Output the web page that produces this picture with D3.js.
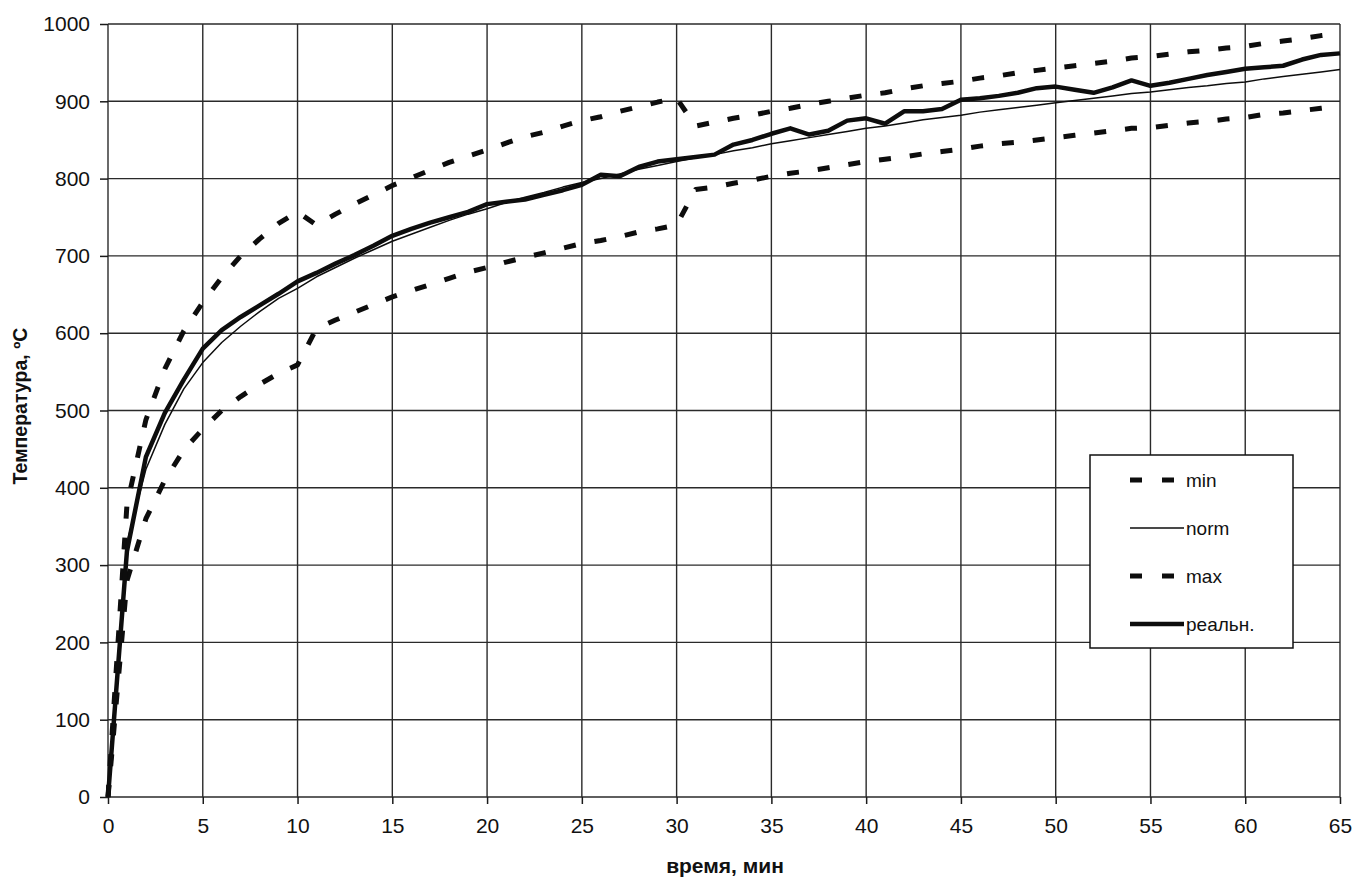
<!DOCTYPE html>
<html>
<head>
<meta charset="utf-8">
<script src="https://cdn.jsdelivr.net/npm/d3@7"></script>
<style>
  body { margin: 0; background: #fff; }
  text { font-family: "Liberation Sans", Arial, sans-serif; fill: #111; }
</style>
</head>
<body>
<svg id="chart" width="1357" height="878"></svg>
<script>
// time, minutes
var minutes = [0,1,2,3,4,5,6,7,8,9,10,11,12,13,14,15,16,17,18,19,20,
  21,22,23,24,25,26,27,28,29,30,31,32,33,34,35,36,37,38,39,40,
  41,42,43,44,45,46,47,48,49,50,51,52,53,54,55,56,57,58,59,60,61,62,63,64,65];

// temperatures, ºC
var normT = [0,329,424,482,528,562,588,609,628,645,658,
  673,685,697,708,719,728,737,746,754,761,
  769,776,782,789,795,800,806,812,817,822,
  827,831,836,840,845,849,853,857,861,865,
  868,872,876,879,882,886,889,892,895,898,
  901,904,907,910,912,915,918,920,923,925,
  929,932,935,938,941];

var maxT = [0,378,488,554,603,640,672,700,722,742,757,
  740,754,767,779,791,801,811,821,829,837,
  846,854,860,868,875,880,887,893,899,904,
  868,873,878,882,887,891,896,900,904,908,
  911,916,920,923,926,930,933,937,940,943,
  946,949,952,956,958,961,964,966,969,971,
  975,978,981,985,988];

var minT = [0,280,360,410,449,476,500,518,534,548,559,
  606,617,627,637,647,655,663,671,679,685,
  692,698,704,710,716,720,725,731,735,740,
  786,789,794,798,803,807,810,814,818,822,
  825,828,832,835,838,842,845,847,850,853,
  856,859,862,865,866,869,872,874,877,879,
  883,885,888,891,894];

var realT = [0,318,440,497,540,580,604,621,636,651,667,
  678,690,701,713,726,735,743,750,757,767,
  770,773,779,785,792,805,803,815,822,825,
  828,831,844,850,858,865,857,862,875,878,
  871,887,887,890,902,904,907,911,917,919,
  915,911,918,927,920,924,929,934,938,942,
  944,946,954,960,962];

var xTicks = [0,5,10,15,20,25,30,35,40,45,50,55,60,65];
var yTicks = [0,100,200,300,400,500,600,700,800,900,1000];
var legendNames = ["min", "norm", "max", "реальн."];

var svg = d3.select("#chart");

var x = d3.scaleLinear().domain([0, 65]).range([108, 1340]);
var y = d3.scaleLinear().domain([0, 1000]).range([797, 24]);

// grid
svg.append("g").selectAll("line").data(xTicks).enter().append("line")
  .attr("x1", function(d) { return x(d); })
  .attr("x2", function(d) { return x(d); })
  .attr("y1", y(0)).attr("y2", y(1000))
  .attr("stroke", "#2a2a2a").attr("stroke-width", 1.4);

svg.append("g").selectAll("line").data(yTicks).enter().append("line")
  .attr("x1", x(0)).attr("x2", x(65))
  .attr("y1", function(d) { return y(d); })
  .attr("y2", function(d) { return y(d); })
  .attr("stroke", "#2a2a2a").attr("stroke-width", 1.4);

// axes
var yAxis = svg.append("g")
  .attr("transform", "translate(" + x(0) + ",0)")
  .call(d3.axisLeft(y).tickValues(yTicks).tickFormat(d3.format("d"))
    .tickSize(8).tickPadding(10));
var xAxis = svg.append("g")
  .attr("transform", "translate(0," + y(0) + ")")
  .call(d3.axisBottom(x).tickValues(xTicks).tickFormat(d3.format("d"))
    .tickSize(7).tickPadding(14));

[yAxis, xAxis].forEach(function(a) {
  a.select(".domain").remove();
  a.selectAll(".tick line").attr("stroke", "#1a1a1a").attr("stroke-width", 1.5);
  a.selectAll(".tick text")
    .style("font-family", '"Liberation Sans", Arial, sans-serif')
    .style("font-size", "21px")
    .attr("fill", "#111");
});

// series
var series = [
  { name: "max", values: maxT, width: 5, dash: "12,19" },
  { name: "min", values: minT, width: 5, dash: "12,19" },
  { name: "norm", values: normT, width: 1.5, dash: null },
  { name: "реальн.", values: realT, width: 4.5, dash: null }
];

var line = d3.line()
  .x(function(d) { return x(d[0]); })
  .y(function(d) { return y(d[1]); });

series.forEach(function(s) {
  svg.append("path")
    .datum(minutes.map(function(m, i) { return [m, s.values[i]]; }))
    .attr("d", line)
    .attr("fill", "none")
    .attr("stroke", "#0d0d0d")
    .attr("stroke-width", s.width)
    .attr("stroke-linejoin", "round")
    .attr("stroke-dasharray", s.dash);
});

// legend
var lg = svg.append("g");
lg.append("rect")
  .attr("x", 1090).attr("y", 455).attr("width", 203).attr("height", 193)
  .attr("fill", "#fff").attr("stroke", "#111").attr("stroke-width", 1.5);

var legendStyle = {
  "min": { width: 5, dash: "12,20" },
  "norm": { width: 1.5, dash: null },
  "max": { width: 5, dash: "12,20" },
  "реальн.": { width: 4.5, dash: null }
};

var item = lg.selectAll("g.item").data(legendNames).enter().append("g")
  .attr("class", "item")
  .attr("transform", function(d, i) { return "translate(0," + (480 + i * 48) + ")"; });

item.append("line")
  .attr("x1", 1130).attr("x2", 1184).attr("y1", 0).attr("y2", 0)
  .attr("stroke", "#0d0d0d")
  .attr("stroke-width", function(d) { return legendStyle[d].width; })
  .attr("stroke-dasharray", function(d) { return legendStyle[d].dash; });

item.append("text")
  .attr("x", 1186).attr("y", 7)
  .style("font-size", "19px")
  .text(function(d) { return d; });

// axis titles
svg.append("text")
  .attr("x", 725).attr("y", 873)
  .attr("text-anchor", "middle")
  .style("font-size", "21px").style("font-weight", "bold")
  .text("время, мин");

svg.append("text")
  .attr("transform", "translate(27,406) rotate(-90)")
  .attr("text-anchor", "middle")
  .style("font-size", "19.5px").style("font-weight", "bold")
  .text("Температура, ºС");
</script>
</body>
</html>
